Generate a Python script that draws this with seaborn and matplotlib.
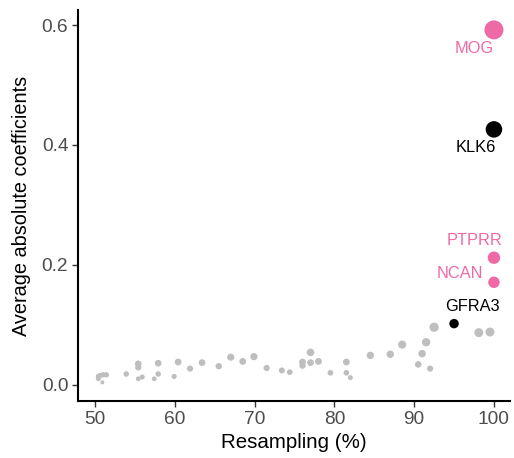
import numpy as np
import pandas as pd
import matplotlib
matplotlib.use("Agg")
import matplotlib.pyplot as plt
import seaborn as sns

# Background genes (gray)
gray_x = [50.4, 50.6, 51.0, 51.4, 50.4, 50.9, 53.9, 55.4, 55.4, 55.4, 55.9,
          57.9, 57.9, 57.4, 59.9, 60.4, 61.9, 63.4, 65.5, 67.0, 68.5, 69.9,
          71.5, 73.4, 74.4, 76.0, 76.0, 77.0, 77.0, 78.0, 79.5, 81.5, 81.5,
          82.0, 84.5, 87.0, 88.5, 90.5, 91.0, 91.5, 92.0, 92.5, 98.1, 99.5]
gray_y = [0.014, 0.0155, 0.0167, 0.0167, 0.010, 0.004, 0.018, 0.035, 0.029,
          0.010, 0.013, 0.036, 0.018, 0.010, 0.014, 0.038, 0.027, 0.037,
          0.031, 0.046, 0.039, 0.047, 0.028, 0.024, 0.021, 0.038, 0.032,
          0.054, 0.037, 0.039, 0.020, 0.038, 0.020, 0.012, 0.049, 0.051,
          0.067, 0.034, 0.052, 0.071, 0.027, 0.096, 0.087, 0.088]

# Labelled genes
genes = ["MOG", "KLK6", "PTPRR", "NCAN", "GFRA3"]
gene_x = [100.0, 100.0, 100.0, 100.0, 95.0]
gene_y = [0.592, 0.426, 0.212, 0.171, 0.102]
gene_group = ["pink", "black", "pink", "pink", "black"]

PINK = "#EE6AA7"
GRAY = "#BEBEBE"
palette = {"gray": GRAY, "pink": PINK, "black": "#000000"}

df = pd.DataFrame({
    "x": gray_x + gene_x,
    "y": gray_y + gene_y,
    "group": ["gray"] * len(gray_x) + gene_group,
    "label": [""] * len(gray_x) + genes,
})

# size: diameter linear in sqrt(value) (area scale)
DPI = 100
sq = np.sqrt(df["y"].values)
dpx = 4 + 15 * (sq - sq.min()) / (sq.max() - sq.min())
dpt = dpx * 72 / DPI
df["s"] = dpt ** 2

sns.set_style("white")
plt.rcParams["font.family"] = ["Liberation Sans", "DejaVu Sans"]

fig = plt.figure(figsize=(5.14, 4.58), dpi=DPI)
ax = fig.add_axes([0.1518, 0.1245, 0.992 - 0.1518, 0.978 - 0.1245])

order = df.sort_values("group", key=lambda c: c.map({"gray": 0, "black": 1, "pink": 1}))
sns.scatterplot(data=order, x="x", y="y", hue="group", palette=palette,
                s=order["s"].values, linewidth=0, legend=False, ax=ax)

offsets = {"MOG": (-20, -19), "KLK6": (-18, -18), "PTPRR": (-19, 17),
           "NCAN": (-34, 9), "GFRA3": (18, 17)}
for g, xx, yy, grp in zip(genes, gene_x, gene_y, gene_group):
    dx, dy = offsets[g]
    ax.annotate(g, (xx, yy), xytext=(dx * 72 / DPI, dy * 72 / DPI),
                textcoords="offset points", ha="center", va="center",
                fontsize=11.8, color=palette[grp])

ax.set_xlim(47.85, 102.0)
ax.set_ylim(-0.027, 0.625)
ax.set_xticks([50, 60, 70, 80, 90, 100])
ax.set_yticks([0.0, 0.2, 0.4, 0.6])
ax.set_yticklabels(["0.0", "0.2", "0.4", "0.6"])
ax.set_xlabel("Resampling (%)", fontsize=14.8, color="black", labelpad=4)
ax.set_ylabel("Average absolute coefficients", fontsize=14.3, color="black", labelpad=8)
ax.tick_params(axis="both", labelsize=13.8, labelcolor="#4D4D4D", color="#333333",
               length=4, width=1.0, direction="out", left=True, bottom=True, pad=3)
for side in ["top", "right"]:
    ax.spines[side].set_visible(False)
for side in ["left", "bottom"]:
    ax.spines[side].set_color("black")
    ax.spines[side].set_linewidth(1.5)
ax.grid(False)

fig.savefig("out.png", dpi=DPI)
